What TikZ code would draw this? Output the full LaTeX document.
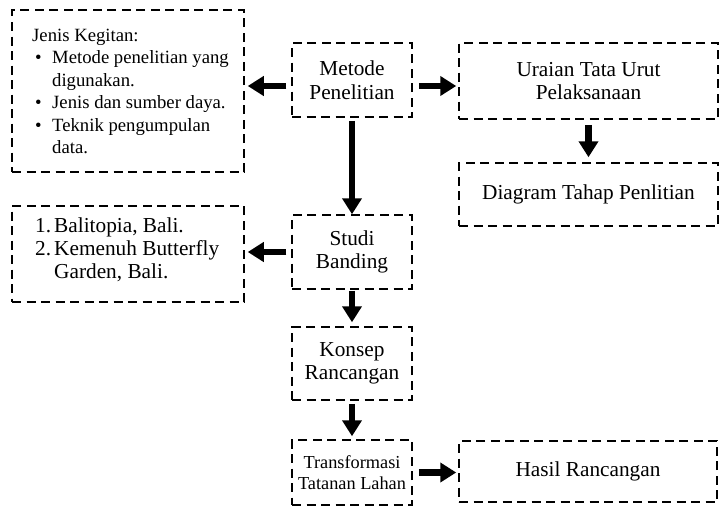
\documentclass[tikz,border=0pt]{standalone}
\usepackage{fontspec}
\setmainfont{Liberation Serif}
\usetikzlibrary{arrows.meta}
\begin{document}
\begin{tikzpicture}[x=1pt,y=-1pt,
  box/.style={draw, dash pattern=on 9pt off 5.5pt, line width=1.5pt, inner sep=0pt,
    align=center, font=\fontsize{21.3}{23.5}\selectfont},
  arr/.style={line width=6.5pt, -{Triangle[length=16pt,width=19pt]}},
  txt/.style={anchor=base west, inner sep=0pt}]
\useasboundingbox (0,0) rectangle (723,506);

% boxes
\node[box, minimum width=232pt, minimum height=162pt] (kegiatan) at (128,91) {};
\node[txt] (kegiatantxt) at (32,41) {\parbox[t]{210pt}{\fontsize{18.7}{22.5}\selectfont
  Jenis Kegitan:\\
  \hspace*{3pt}\makebox[17pt][l]{\textbullet}Metode penelitian yang\\
  \hspace*{20pt}digunakan.\\
  \hspace*{3pt}\makebox[17pt][l]{\textbullet}Jenis dan sumber daya.\\
  \hspace*{3pt}\makebox[17pt][l]{\textbullet}Teknik pengumpulan\\
  \hspace*{20pt}data.}};

\node[box, minimum width=120pt, minimum height=74pt] (metode) at (352,80) {Metode\\Penelitian};
\node[box, minimum width=259pt, minimum height=76pt] (uraian) at (588.5,81) {Uraian Tata Urut\\Pelaksanaan};
\node[box, minimum width=259pt, minimum height=63pt] (diagram) at (588.5,194.5) {Diagram Tahap Penlitian};

\node[box, minimum width=232pt, minimum height=96pt] (banding) at (128,254) {};
\node[txt] (bandingtxt) at (35,232) {\parbox[t]{200pt}{\fontsize{21.3}{23.3}\selectfont
  \makebox[19pt][l]{1.}Balitopia, Bali.\\
  \makebox[19pt][l]{2.}Kemenuh Butterfly\\
  \hspace*{19pt}Garden, Bali.}};

\node[box, minimum width=120pt, minimum height=74pt] (studi) at (352,252) {Studi\\Banding};
\node[box, minimum width=120pt, minimum height=73pt] (konsep) at (352,363.5) {Konsep\\Rancangan};
\node[box, minimum width=120pt, minimum height=65pt, font=\fontsize{18.3}{21.7}\selectfont] (transform) at (352,472.5) {Transformasi\\Tatanan Lahan};
\node[box, minimum width=258pt, minimum height=61pt] (hasil) at (588,471.5) {Hasil Rancangan};

% arrows
\draw[arr, shorten <=5pt, shorten >=3pt] ([yshift=-6pt]metode.west) -- ([yshift=-6pt]metode.west -| kegiatan.east);
\draw[arr, shorten <=6pt, shorten >=2pt] ([yshift=-6pt]metode.east) -- ([yshift=-6pt]metode.east -| uraian.west);
\draw[arr, shorten <=3pt] (metode.south) -- (studi.north);
\draw[arr, shorten <=5pt, shorten >=5pt] (uraian.south) -- (diagram.north);
\draw[arr, shorten <=5pt, shorten >=3pt] (studi.west) -- (studi.west -| banding.east);
\draw[arr, shorten <=1pt, shorten >=4pt] (studi.south) -- (konsep.north);
\draw[arr, shorten <=3pt, shorten >=3pt] (konsep.south) -- (transform.north);
\draw[arr, shorten <=6pt, shorten >=2pt] (transform.east) -- (transform.east -| hasil.west);
\end{tikzpicture}
\end{document}
